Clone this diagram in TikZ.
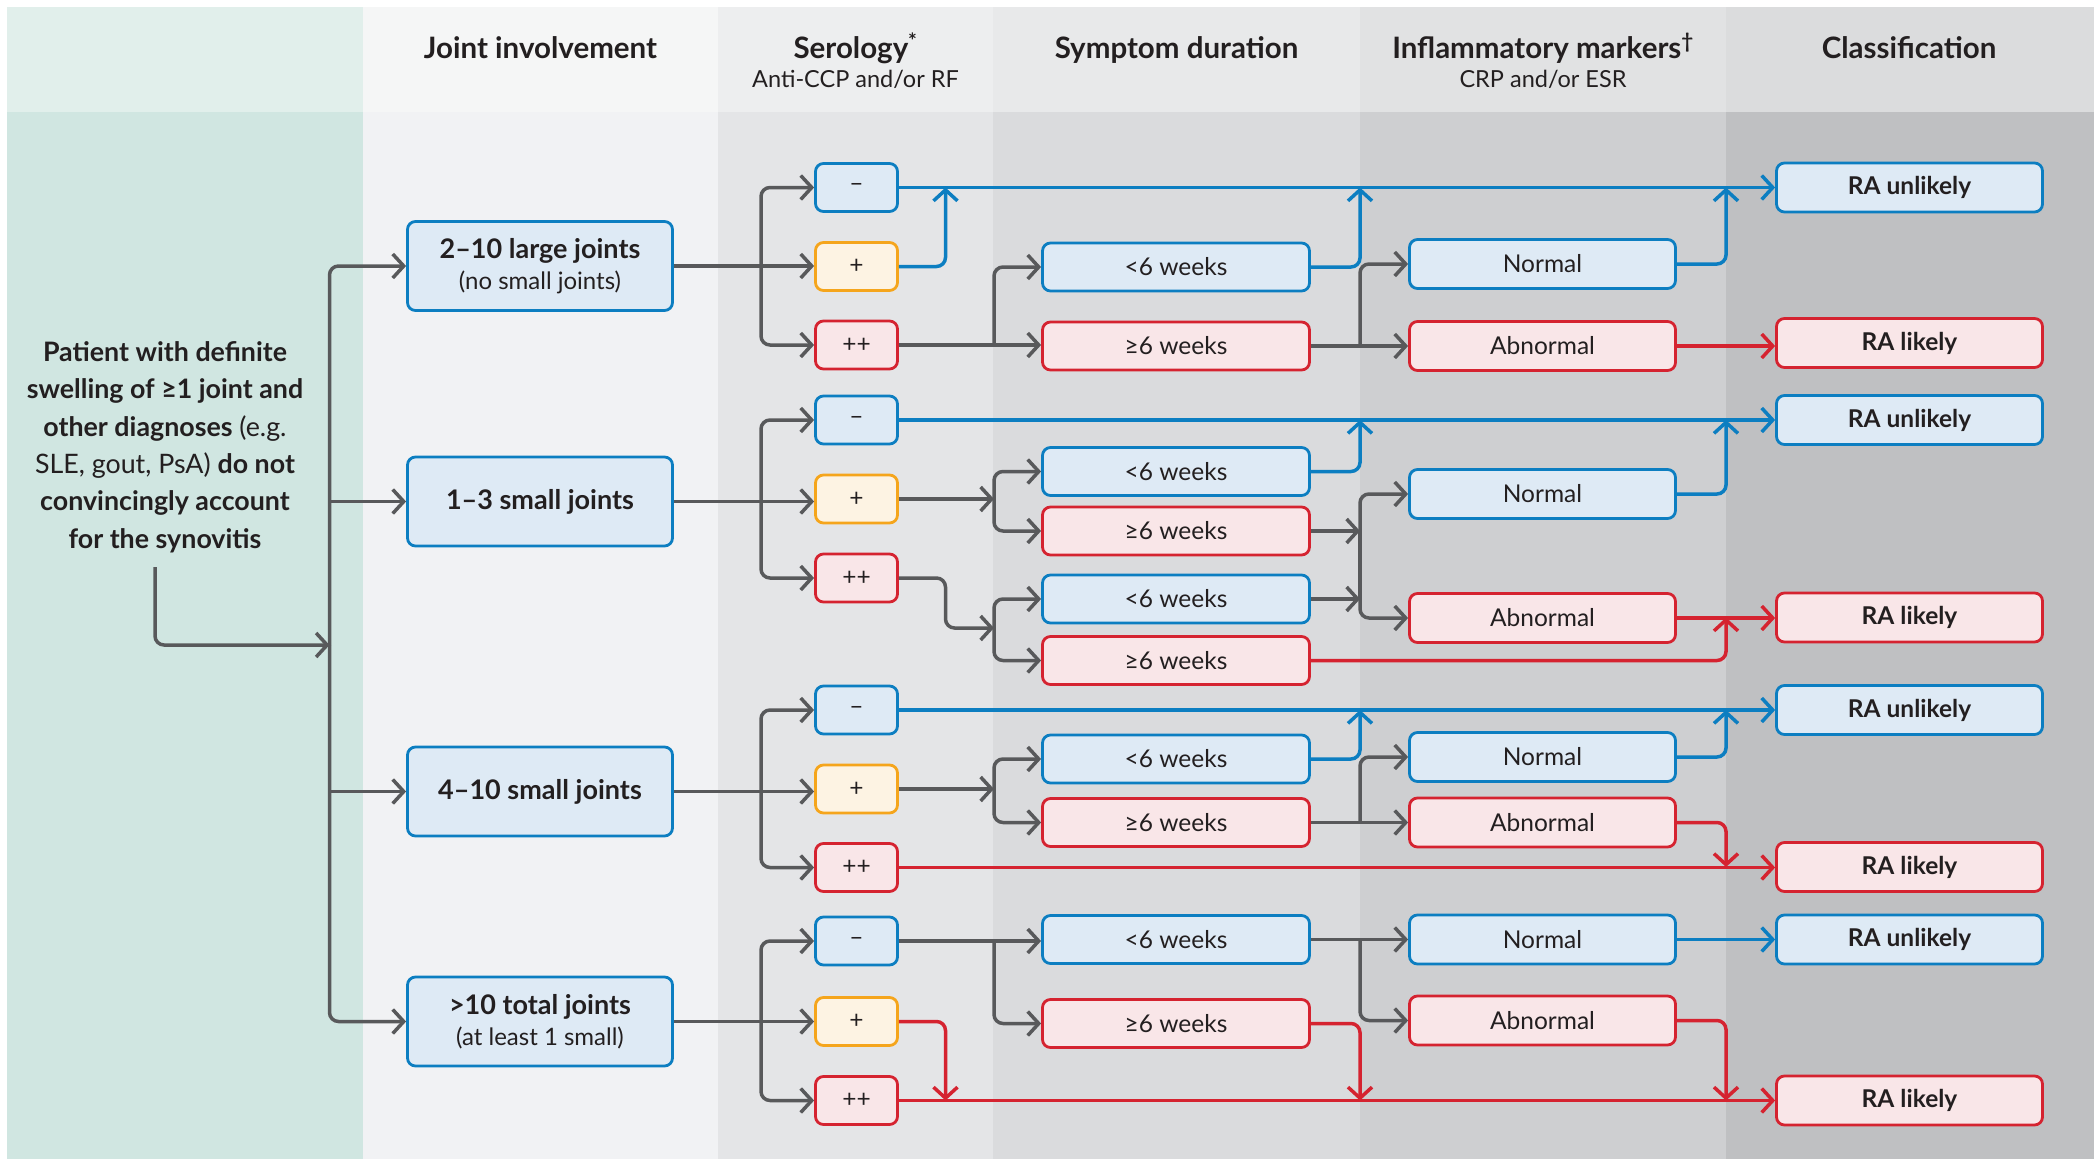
\documentclass[tikz,border=0pt]{standalone}
\usepackage{fontspec}
\setmainfont{Lato}
\usetikzlibrary{arrows.meta,calc}
\definecolor{cgray}{HTML}{58595B}
\definecolor{cblue}{HTML}{0C7EC1}
\definecolor{cred}{HTML}{D52330}
\definecolor{cyel}{HTML}{F5A51C}
\definecolor{fblue}{HTML}{DEEAF5}
\definecolor{fred}{HTML}{F9E6E8}
\definecolor{fyel}{HTML}{FDF3E3}
\definecolor{ctext}{HTML}{231F20}
\definecolor{hA}{HTML}{E1EFEB}\definecolor{bA}{HTML}{D0E6E1}
\definecolor{hB}{HTML}{F5F6F6}\definecolor{bB}{HTML}{F1F2F4}
\definecolor{hC}{HTML}{EDEEEF}\definecolor{bC}{HTML}{E4E5E7}
\definecolor{hD}{HTML}{E8E9EA}\definecolor{bD}{HTML}{DADBDD}
\definecolor{hE}{HTML}{E1E2E3}\definecolor{bE}{HTML}{CECFD1}
\definecolor{hF}{HTML}{DBDCDD}\definecolor{bF}{HTML}{BFC0C2}
\newcommand\FHead{\fontsize{29.5}{34}\selectfont\bfseries}
\newcommand\FSub{\fontsize{23.5}{28}\selectfont}
\newcommand\FJoint{\fontsize{27}{31}\selectfont\bfseries}
\newcommand\FJsub{\fontsize{24}{31}\selectfont}
\newcommand\FSmall{\fontsize{24.5}{29}\selectfont}
\newcommand\FCls{\fontsize{24.5}{29}\selectfont\bfseries}
\newcommand\FPat{\fontsize{26.8}{37.4}\selectfont}
\tikzset{
  box/.style={rounded corners=8pt, line width=2.8pt, align=center, inner sep=0pt, text=ctext},
  bbox/.style={box, draw=cblue, fill=fblue},
  rbox/.style={box, draw=cred, fill=fred},
  ybox/.style={box, draw=cyel, fill=fyel},
  jointbox/.style={bbox, minimum width=265pt, minimum height=89pt},
  serbox/.style={minimum width=82pt, minimum height=48pt, font=\FSmall},
  symbox/.style={minimum width=267pt, minimum height=48pt, font=\FSmall},
  infbox/.style={minimum width=266pt, minimum height=49pt, font=\FSmall},
  clsbox/.style={minimum width=266pt, minimum height=49pt, font=\FCls},
  conn/.style={line width=3.5pt, rounded corners=9pt, -{Straight Barb[length=11pt,width=24pt]}},
  gline/.style={conn, draw=cgray},
  bline/.style={conn, draw=cblue},
  rline/.style={conn, draw=cred},
  plain/.style={line width=3.5pt, draw=cgray},
  hdr/.style={text=ctext, font=\FHead, anchor=base},
  sub/.style={text=ctext, font=\FSub, anchor=base},
}
\begin{document}
\begin{tikzpicture}[x=1pt,y=-1pt]
\useasboundingbox (0,0) rectangle (2094,1159);
\fill[white] (0,0) rectangle (2094,1159);
% column backgrounds
\fill[hA] (7,7) rectangle (363,112); \fill[bA] (7,112) rectangle (363,1159);
\fill[hB] (363,7) rectangle (718,112); \fill[bB] (363,112) rectangle (718,1159);
\fill[hC] (718,7) rectangle (993,112); \fill[bC] (718,112) rectangle (993,1159);
\fill[hD] (993,7) rectangle (1360,112); \fill[bD] (993,112) rectangle (1360,1159);
\fill[hE] (1360,7) rectangle (1726,112); \fill[bE] (1360,112) rectangle (1726,1159);
\fill[hF] (1726,7) rectangle (2094,112); \fill[bF] (1726,112) rectangle (2094,1159);
% headers
\node[hdr] (h1) at (540.5,58) {Joint involvement};
\node[hdr] (h2) at (855.5,58) {Serology\textsuperscript{*}};
\node[sub] (h2s) at (855.5,87) {Anti-CCP and/or RF};
\node[hdr] (h3) at (1176.5,58) {Symptom duration};
\node[hdr] (h4) at (1543,58) {Inflammatory markers\textsuperscript{\textdagger}};
\node[sub] (h4s) at (1543,87) {CRP and/or ESR};
\node[hdr] (h5) at (1909,58) {Classification};
% patient text
\node[text=ctext, font=\FPat, align=center, inner sep=0pt] (pat) at (165,447) {%
\textbf{Patient with definite}\\
\textbf{swelling of ≥1 joint and}\\
\textbf{other diagnoses} (e.g.\\
SLE, gout, PsA) \textbf{do not}\\
\textbf{convincingly account}\\
\textbf{for the synovitis}};
% joint boxes
\node[jointbox, font=\FJsub] (j1) at (540,266) {{\FJoint 2–10 large joints}\\(no small joints)};
\node[jointbox, font=\FJoint] (j2) at (540,501.5) {1–3 small joints};
\node[jointbox, font=\FJoint] (j3) at (540,791.5) {4–10 small joints};
\node[jointbox, font=\FJsub] (j4) at (540,1021.5) {{\FJoint >10 total joints}\\(at least 1 small)};
% serology
\node[bbox, serbox] (s1m) at (856.5,187.5) {–};
\node[ybox, serbox] (s1p) at (856.5,266.5) {+};
\node[rbox, serbox] (s1pp) at (856.5,345) {++};
\node[bbox, serbox] (s2m) at (856.5,420) {–};
\node[ybox, serbox] (s2p) at (856.5,499) {+};
\node[rbox, serbox] (s2pp) at (856.5,578) {++};
\node[bbox, serbox] (s3m) at (856.5,710) {–};
\node[ybox, serbox] (s3p) at (856.5,789) {+};
\node[rbox, serbox] (s3pp) at (856.5,867.5) {++};
\node[bbox, serbox] (s4m) at (856.5,941) {–};
\node[ybox, serbox] (s4p) at (856.5,1021.5) {+};
\node[rbox, serbox] (s4pp) at (856.5,1100.5) {++};
% symptom duration
\node[bbox, symbox] (d1a) at (1176,267) {<6 weeks};
\node[rbox, symbox] (d1b) at (1176,346) {≥6 weeks};
\node[bbox, symbox] (d2a) at (1176,471.5) {<6 weeks};
\node[rbox, symbox] (d2b) at (1176,531) {≥6 weeks};
\node[bbox, symbox] (d2c) at (1176,599) {<6 weeks};
\node[rbox, symbox] (d2d) at (1176,660.5) {≥6 weeks};
\node[bbox, symbox] (d3a) at (1176,759) {<6 weeks};
\node[rbox, symbox] (d3b) at (1176,822.5) {≥6 weeks};
\node[bbox, symbox] (d4a) at (1176,939.5) {<6 weeks};
\node[rbox, symbox] (d4b) at (1176,1023.5) {≥6 weeks};
% inflammatory markers
\node[bbox, infbox] (i1n) at (1542.5,264) {Normal};
\node[rbox, infbox] (i1a) at (1542.5,346) {Abnormal};
\node[bbox, infbox] (i2n) at (1542.5,494) {Normal};
\node[rbox, infbox] (i2a) at (1542.5,618) {Abnormal};
\node[bbox, infbox] (i3n) at (1542.5,757) {Normal};
\node[rbox, infbox] (i3a) at (1542.5,822.5) {Abnormal};
\node[bbox, infbox] (i4n) at (1542.5,939.5) {Normal};
\node[rbox, infbox] (i4a) at (1542.5,1020.5) {Abnormal};
% classification
\node[bbox, clsbox] (c1u) at (1909.5,187.5) {RA unlikely};
\node[rbox, clsbox] (c1l) at (1909.5,343) {RA likely};
\node[bbox, clsbox] (c2u) at (1909.5,420) {RA unlikely};
\node[rbox, clsbox] (c2l) at (1909.5,617.5) {RA likely};
\node[bbox, clsbox] (c3u) at (1909.5,710) {RA unlikely};
\node[rbox, clsbox] (c3l) at (1909.5,867) {RA likely};
\node[bbox, clsbox] (c4u) at (1909.5,939.5) {RA unlikely};
\node[rbox, clsbox] (c4l) at (1909.5,1100.5) {RA likely};
% branch x positions
\coordinate (xs) at (329.5,0);
\coordinate (xa) at (761,0);
\coordinate (xb) at (945.5,0);
\coordinate (xc) at (994,0);
\coordinate (xd) at (1360,0);
\coordinate (xe) at (1726,0);
\coordinate (pstart) at (155,567);
\coordinate (pjoin) at (329.5,645);
% patient -> spine -> joints
\draw[gline] (pstart) |- (pjoin);
\draw[gline] (pjoin) |- (j1.west);
\draw[gline] (pjoin) |- (j4.west);
\draw[gline] (xs |- j2.west) -- (j2.west);
\draw[gline] (xs |- j3.west) -- (j3.west);
% joints -> serology
\foreach \g in {1,2,3,4}{
  \draw[gline] (j\g.east) -- (s\g p.west |- j\g.east);
  \draw[gline] (xa |- j\g.east) |- (s\g m.west);
  \draw[gline] (xa |- j\g.east) |- (s\g pp.west);
}
% ---- group 1
\draw[bline] (s1m.east) -- (c1u.west);
\draw[bline] (s1p.east) -| (xb |- c1u.west);
\draw[gline] (s1pp.east) -- (d1b.west |- s1pp.east);
\draw[gline] (xc |- s1pp.east) |- (d1a.west);
\draw[bline] (d1a.east) -| (xd |- c1u.west);
\draw[gline] (d1b.east) -- (i1a.west |- d1b.east);
\draw[gline] (xd |- d1b.east) |- (i1n.west);
\draw[bline] (i1n.east) -| (xe |- c1u.west);
\draw[rline] (i1a.east) -- (c1l.west |- i1a.east);
% ---- group 2
\draw[bline] (s2m.east) -- (c2u.west);
\draw[gline] (s2p.east) -- (xc |- s2p.east);
\draw[gline] (xc |- s2p.east) |- (d2a.west);
\draw[gline] (xc |- s2p.east) |- (d2b.west);
\coordinate (m2) at (994,628);
\draw[gline] (s2pp.east) -| (xb |- m2) -- (m2);
\draw[gline] (m2) |- (d2c.west);
\draw[gline] (m2) |- (d2d.west);
\draw[bline] (d2a.east) -| (xd |- c2u.west);
\draw[gline] (d2b.east) -- (xd |- d2b.east);
\draw[gline] (d2c.east) -- (xd |- d2c.east);
\draw[plain] (xd |- d2b.east) -- (xd |- d2c.east);
\draw[gline] (xd |- d2b.east) |- (i2n.west);
\draw[gline] (xd |- d2c.east) |- (i2a.west);
\draw[rline] (d2d.east) -| (xe |- c2l.west);
\draw[bline] (i2n.east) -| (xe |- c2u.west);
\draw[rline] (i2a.east) -- (c2l.west |- i2a.east);
% ---- group 3
\draw[bline] (s3m.east) -- (c3u.west);
\draw[gline] (s3p.east) -- (xc |- s3p.east);
\draw[gline] (xc |- s3p.east) |- (d3a.west);
\draw[gline] (xc |- s3p.east) |- (d3b.west);
\draw[rline] (s3pp.east) -- (c3l.west |- s3pp.east);
\draw[bline] (d3a.east) -| (xd |- c3u.west);
\draw[gline] (d3b.east) -- (i3a.west |- d3b.east);
\draw[gline] (xd |- d3b.east) |- (i3n.west);
\draw[bline] (i3n.east) -| (xe |- c3u.west);
\draw[rline] (i3a.east) -| (xe |- c3l.west);
% ---- group 4
\draw[gline] (s4m.east) -- (d4a.west |- s4m.east);
\draw[gline] (xc |- s4m.east) |- (d4b.west);
\draw[rline] (s4p.east) -| (xb |- s4pp.east);
\draw[rline] (s4pp.east) -- (c4l.west |- s4pp.east);
\draw[gline] (d4a.east) -- (i4n.west |- d4a.east);
\draw[gline] (xd |- d4a.east) |- (i4a.west);
\draw[rline] (d4b.east) -| (xd |- c4l.west);
\draw[bline] (i4n.east) -- (c4u.west |- i4n.east);
\draw[rline] (i4a.east) -| (xe |- c4l.west);
\end{tikzpicture}
\end{document}
